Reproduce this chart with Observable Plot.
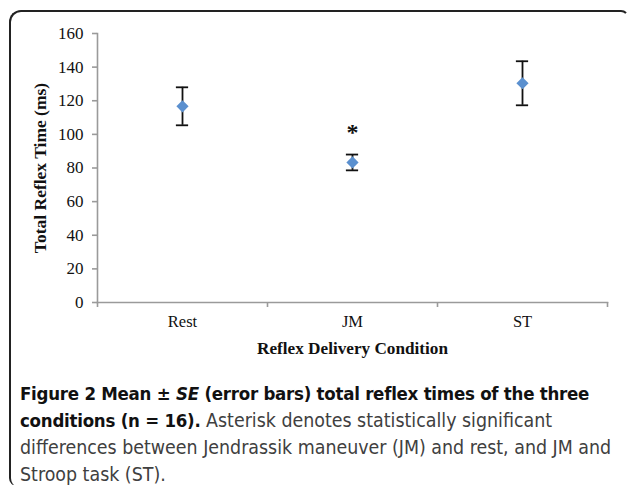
<!DOCTYPE html>
<html>
<head>
<meta charset="utf-8">
<script src="https://cdn.jsdelivr.net/npm/d3@7"></script>
<script src="https://cdn.jsdelivr.net/npm/@observablehq/plot@0.6"></script>
<style>
  html, body { margin: 0; padding: 0; background: #fff; }
  #page { position: relative; width: 629px; height: 485px; overflow: hidden; }
  #box { position: absolute; left: 9px; top: 10px; width: 616px; height: 474px;
         border-top: 2px solid #222; border-left: 2px solid #222; border-right: 2px solid transparent;
         border-radius: 12px 8px 0 8px; }
  #chart { position: absolute; left: 0; top: 0; }
  #caption { position: absolute; left: 20px; top: 380px; width: 610px;
             font-family: "DejaVu Sans Condensed", "DejaVu Sans", sans-serif; font-size: 19.4px;
             line-height: 27px; color: #404040; white-space: nowrap; }
  #caption b { color: #111; font-size: 18.5px; letter-spacing: -0.25px; }
</style>
</head>
<body>
<div id="page">
  <div id="box"></div>
  <div id="chart"></div>
  <div id="caption">
    <b>Figure 2</b> <b>Mean ± <i>SE</i> (error bars) total reflex times of the three</b><br>
    <b>conditions (n = 16).</b> Asterisk denotes statistically significant<br>
    differences between Jendrassik maneuver (JM) and rest, and JM and<br>
    Stroop task (ST).
  </div>
</div>
<script>
const conditions = ["Rest", "JM", "ST"];
const means = [116.7, 83.3, 130.4];
const se = [11.3, 4.7, 13.1];
const significance = ["", "*", ""];
const asteriskY = [null, 103, null];
const yTicks = [0, 20, 40, 60, 80, 100, 120, 140, 160];
const xTitle = "Reflex Delivery Condition";
const yTitle = "Total Reflex Time (ms)";

const rows = conditions.map((c, i) => ({
  c, xi: i + 0.5, mean: means[i], lo: means[i] - se[i], hi: means[i] + se[i],
  sig: significance[i], sy: asteriskY[i]
}));
const boundaries = d3.range(conditions.length + 1);
const cap = 0.036;

const chart = Plot.plot({
  width: 629,
  height: 370,
  marginLeft: 97,
  marginRight: 22,
  marginTop: 33,
  marginBottom: 68,
  style: { fontFamily: "Liberation Serif, Times New Roman, serif", color: "#111", background: "transparent" },
  x: { domain: [0, conditions.length] },
  y: { domain: [0, 160] },
  marks: [
    Plot.frame({ anchor: "left", stroke: "#9a9a9a", strokeWidth: 1.6 }),
    Plot.frame({ anchor: "bottom", stroke: "#9a9a9a", strokeWidth: 1.6 }),
    Plot.axisY({ ticks: yTicks, tickSize: 5, tickPadding: 9, stroke: "#9a9a9a", strokeWidth: 1.6, fill: "#111", fontSize: 17, label: null }),
    Plot.axisX({ ticks: boundaries, tickSize: 5, tickFormat: () => "", stroke: "#9a9a9a", strokeWidth: 1.6, label: null }),
    Plot.text(rows, { x: "xi", frameAnchor: "bottom", dy: 24, text: "c", fontSize: 16.5, fill: "#111" }),
    Plot.text([xTitle], { frameAnchor: "bottom", dy: 51, text: d => d, fontSize: 17.2, fontWeight: "bold", fill: "#111" }),
    Plot.text([yTitle], { frameAnchor: "left", textAnchor: "middle", dx: -57, rotate: -90, text: d => d, fontSize: 17.5, fontWeight: "bold", fill: "#111" }),
    Plot.ruleX(rows, { x: "xi", y1: "lo", y2: "hi", stroke: "#111", strokeWidth: 1.8 }),
    Plot.ruleY(rows, { y: "hi", x1: d => d.xi - cap, x2: d => d.xi + cap, stroke: "#111", strokeWidth: 1.8 }),
    Plot.ruleY(rows, { y: "lo", x1: d => d.xi - cap, x2: d => d.xi + cap, stroke: "#111", strokeWidth: 1.8 }),
    Plot.dot(rows, { x: "xi", y: "mean", symbol: "diamond2", r: 5.5, fill: "#5b90cf", stroke: "none" }),
    Plot.text(rows.filter(d => d.sig), { x: "xi", y: "sy", text: "sig", fontSize: 24, fontWeight: "bold", fill: "#111", dy: 3 })
  ]
});
document.getElementById("chart").appendChild(chart);
</script>
</body>
</html>
